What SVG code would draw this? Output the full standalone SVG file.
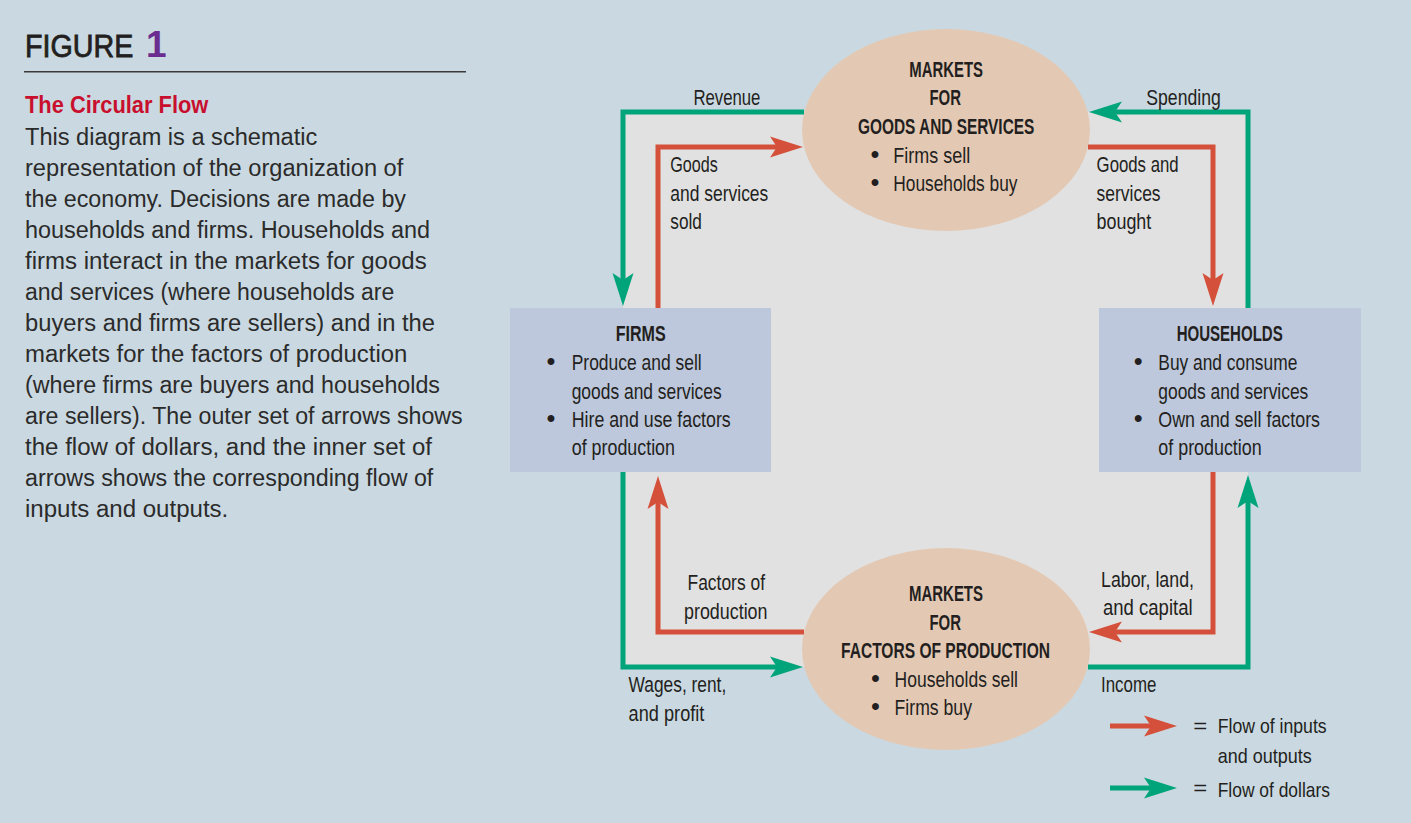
<svg xmlns="http://www.w3.org/2000/svg" width="1411" height="823" viewBox="0 0 1411 823">
<defs>
<style>
.t{font-family:"Liberation Sans",Arial,sans-serif;fill:#231f20}
.r{font-size:22.5px}
.b{font-size:22.5px;font-weight:bold}
.bu{font-size:24px;font-weight:bold;text-anchor:middle}
.body{font-size:23.5px;fill:#2b2b2b}
.lg{font-size:21px}
.g{fill:none;stroke:#00a47a;stroke-width:5}
.rd{fill:none;stroke:#d5503a;stroke-width:5}
.node-e{fill:#e3c9b4}
.node-r{fill:#bdc8dc}
</style>
<marker id="ag" viewBox="-34 -11 34 22" refX="-24" refY="0" markerWidth="34" markerHeight="22" markerUnits="userSpaceOnUse" orient="auto">
<path d="M0,0 L-33,-10.5 L-26,0 L-33,10.5 Z" fill="#00a47a"/>
</marker>
<marker id="ar" viewBox="-34 -11 34 22" refX="-24" refY="0" markerWidth="34" markerHeight="22" markerUnits="userSpaceOnUse" orient="auto">
<path d="M0,0 L-33,-10.5 L-26,0 L-33,10.5 Z" fill="#d5503a"/>
</marker>
</defs>
<rect x="0" y="0" width="1411" height="823" fill="#cad9e1"/>

<g id="caption">
<text class="t" x="25" y="57" font-size="31" stroke="#231f20" stroke-width="0.8" textLength="108.3" lengthAdjust="spacingAndGlyphs">FIGURE</text>
<text class="t" x="146" y="57" font-size="37" font-weight="bold" style="fill:#6b2d8f">1</text>
<line x1="24" y1="71.7" x2="466" y2="71.7" stroke="#3a3a3a" stroke-width="1.5"/>
<text class="t" x="25" y="113" font-size="23" font-weight="bold" style="fill:#c8102e" textLength="183.3" lengthAdjust="spacingAndGlyphs">The Circular Flow</text>
<text class="t body" x="25" y="145" textLength="292.3" lengthAdjust="spacingAndGlyphs">This diagram is a schematic</text>
<text class="t body" x="25" y="176" textLength="378.3" lengthAdjust="spacingAndGlyphs">representation of the organization of</text>
<text class="t body" x="25" y="207.1" textLength="381" lengthAdjust="spacingAndGlyphs">the economy. Decisions are made by</text>
<text class="t body" x="25" y="238.1" textLength="405" lengthAdjust="spacingAndGlyphs">households and firms. Households and</text>
<text class="t body" x="25" y="269.1" textLength="401.7" lengthAdjust="spacingAndGlyphs">firms interact in the markets for goods</text>
<text class="t body" x="25" y="300.2" textLength="369.3" lengthAdjust="spacingAndGlyphs">and services (where households are</text>
<text class="t body" x="25" y="331.2" textLength="410" lengthAdjust="spacingAndGlyphs">buyers and firms are sellers) and in the</text>
<text class="t body" x="25" y="362.2" textLength="382.3" lengthAdjust="spacingAndGlyphs">markets for the factors of production</text>
<text class="t body" x="25" y="393.2" textLength="415" lengthAdjust="spacingAndGlyphs">(where firms are buyers and households</text>
<text class="t body" x="25" y="424.3" textLength="437.7" lengthAdjust="spacingAndGlyphs">are sellers). The outer set of arrows shows</text>
<text class="t body" x="25" y="455.3" textLength="407" lengthAdjust="spacingAndGlyphs">the flow of dollars, and the inner set of</text>
<text class="t body" x="25" y="486.4" textLength="408.3" lengthAdjust="spacingAndGlyphs">arrows shows the corresponding flow of</text>
<text class="t body" x="25" y="517.4" textLength="203.3" lengthAdjust="spacingAndGlyphs">inputs and outputs.</text>
</g>

<rect x="623" y="112" width="625" height="555" fill="#e1e1e1"/>

<g id="markets-goods">
<ellipse class="node-e" cx="946" cy="130" rx="144" ry="101"/>
<text class="t b" x="909.3" y="77" textLength="73.7" lengthAdjust="spacingAndGlyphs">MARKETS</text>
<text class="t b" x="929.5" y="105" textLength="31.5" lengthAdjust="spacingAndGlyphs">FOR</text>
<text class="t b" x="858" y="134" textLength="176.3" lengthAdjust="spacingAndGlyphs">GOODS AND SERVICES</text>
<text class="t bu" x="875" y="162">•</text>
<text class="t r" x="893.3" y="163" textLength="77" lengthAdjust="spacingAndGlyphs">Firms sell</text>
<text class="t bu" x="875" y="190">•</text>
<text class="t r" x="893.3" y="191" textLength="124.2" lengthAdjust="spacingAndGlyphs">Households buy</text>
</g>

<g id="markets-factors">
<ellipse class="node-e" cx="946" cy="649" rx="144" ry="101"/>
<text class="t b" x="909" y="601" textLength="74" lengthAdjust="spacingAndGlyphs">MARKETS</text>
<text class="t b" x="929.5" y="630" textLength="31.5" lengthAdjust="spacingAndGlyphs">FOR</text>
<text class="t b" x="841" y="658" textLength="209" lengthAdjust="spacingAndGlyphs">FACTORS OF PRODUCTION</text>
<text class="t bu" x="875.5" y="686">•</text>
<text class="t r" x="894.6" y="687" textLength="123.4" lengthAdjust="spacingAndGlyphs">Households sell</text>
<text class="t bu" x="875.5" y="714">•</text>
<text class="t r" x="894.6" y="715" textLength="77.4" lengthAdjust="spacingAndGlyphs">Firms buy</text>
</g>

<g id="firms">
<rect class="node-r" x="510" y="308" width="261" height="164"/>
<text class="t b" x="615.7" y="341" textLength="50" lengthAdjust="spacingAndGlyphs">FIRMS</text>
<text class="t bu" x="551" y="369">•</text>
<text class="t r" x="571.7" y="370" textLength="130" lengthAdjust="spacingAndGlyphs">Produce and sell</text>
<text class="t r" x="571.7" y="398.5" textLength="150" lengthAdjust="spacingAndGlyphs">goods and services</text>
<text class="t bu" x="551" y="426">•</text>
<text class="t r" x="571.7" y="427" textLength="159" lengthAdjust="spacingAndGlyphs">Hire and use factors</text>
<text class="t r" x="571.7" y="455" textLength="103.3" lengthAdjust="spacingAndGlyphs">of production</text>
</g>

<g id="households">
<rect class="node-r" x="1099" y="308" width="262" height="164"/>
<text class="t b" x="1176.7" y="341" textLength="106" lengthAdjust="spacingAndGlyphs">HOUSEHOLDS</text>
<text class="t bu" x="1138.3" y="369">•</text>
<text class="t r" x="1158.3" y="370" textLength="139" lengthAdjust="spacingAndGlyphs">Buy and consume</text>
<text class="t r" x="1158.3" y="398.5" textLength="150" lengthAdjust="spacingAndGlyphs">goods and services</text>
<text class="t bu" x="1138.3" y="426">•</text>
<text class="t r" x="1158.3" y="427" textLength="161.7" lengthAdjust="spacingAndGlyphs">Own and sell factors</text>
<text class="t r" x="1158.3" y="455" textLength="103.4" lengthAdjust="spacingAndGlyphs">of production</text>
</g>

<g id="connectors">
<path class="g" d="M804,112 H623 V282" marker-end="url(#ag)"/>
<path class="g" d="M1248,308 V112 H1113" marker-end="url(#ag)"/>
<path class="g" d="M623,472 V667 H779" marker-end="url(#ag)"/>
<path class="g" d="M1088,667 H1248 V499" marker-end="url(#ag)"/>
<path class="rd" d="M658,308 V147 H779" marker-end="url(#ar)"/>
<path class="rd" d="M1088,147 H1213 V282" marker-end="url(#ar)"/>
<path class="rd" d="M804,632 H658 V500" marker-end="url(#ar)"/>
<path class="rd" d="M1213,472 V632 H1113" marker-end="url(#ar)"/>
</g>

<g id="connector-labels">
<text class="t r" x="693.4" y="105" textLength="67" lengthAdjust="spacingAndGlyphs">Revenue</text>
<text class="t r" x="1146.3" y="105" textLength="74.5" lengthAdjust="spacingAndGlyphs">Spending</text>
<text class="t r" x="670.3" y="172" textLength="47.5" lengthAdjust="spacingAndGlyphs">Goods</text>
<text class="t r" x="670.3" y="201" textLength="98" lengthAdjust="spacingAndGlyphs">and services</text>
<text class="t r" x="670.3" y="229" textLength="31.6" lengthAdjust="spacingAndGlyphs">sold</text>
<text class="t r" x="1096.6" y="172" textLength="82" lengthAdjust="spacingAndGlyphs">Goods and</text>
<text class="t r" x="1096.6" y="201" textLength="64" lengthAdjust="spacingAndGlyphs">services</text>
<text class="t r" x="1096.6" y="229" textLength="54.7" lengthAdjust="spacingAndGlyphs">bought</text>
<text class="t r" x="687.5" y="590" textLength="77.5" lengthAdjust="spacingAndGlyphs">Factors of</text>
<text class="t r" x="684" y="619" textLength="83.5" lengthAdjust="spacingAndGlyphs">production</text>
<text class="t r" x="1101" y="587" textLength="93" lengthAdjust="spacingAndGlyphs">Labor, land,</text>
<text class="t r" x="1103" y="615" textLength="89.6" lengthAdjust="spacingAndGlyphs">and capital</text>
<text class="t r" x="628.6" y="692" textLength="97.6" lengthAdjust="spacingAndGlyphs">Wages, rent,</text>
<text class="t r" x="628.6" y="720.5" textLength="75.8" lengthAdjust="spacingAndGlyphs">and profit</text>
<text class="t r" x="1101" y="692" textLength="55.4" lengthAdjust="spacingAndGlyphs">Income</text>
</g>

<g id="legend">
<path class="rd" d="M1110,726 H1153" marker-end="url(#ar)"/>
<path class="g" d="M1110,788 H1153" marker-end="url(#ag)"/>
<text class="t lg" x="1193.3" y="733" textLength="14" lengthAdjust="spacingAndGlyphs">=</text>
<text class="t lg" x="1217.7" y="733.3" textLength="109" lengthAdjust="spacingAndGlyphs">Flow of inputs</text>
<text class="t lg" x="1217.7" y="763" textLength="94" lengthAdjust="spacingAndGlyphs">and outputs</text>
<text class="t lg" x="1193.3" y="795" textLength="14" lengthAdjust="spacingAndGlyphs">=</text>
<text class="t lg" x="1217.7" y="796.7" textLength="112.3" lengthAdjust="spacingAndGlyphs">Flow of dollars</text>
</g>
</svg>
